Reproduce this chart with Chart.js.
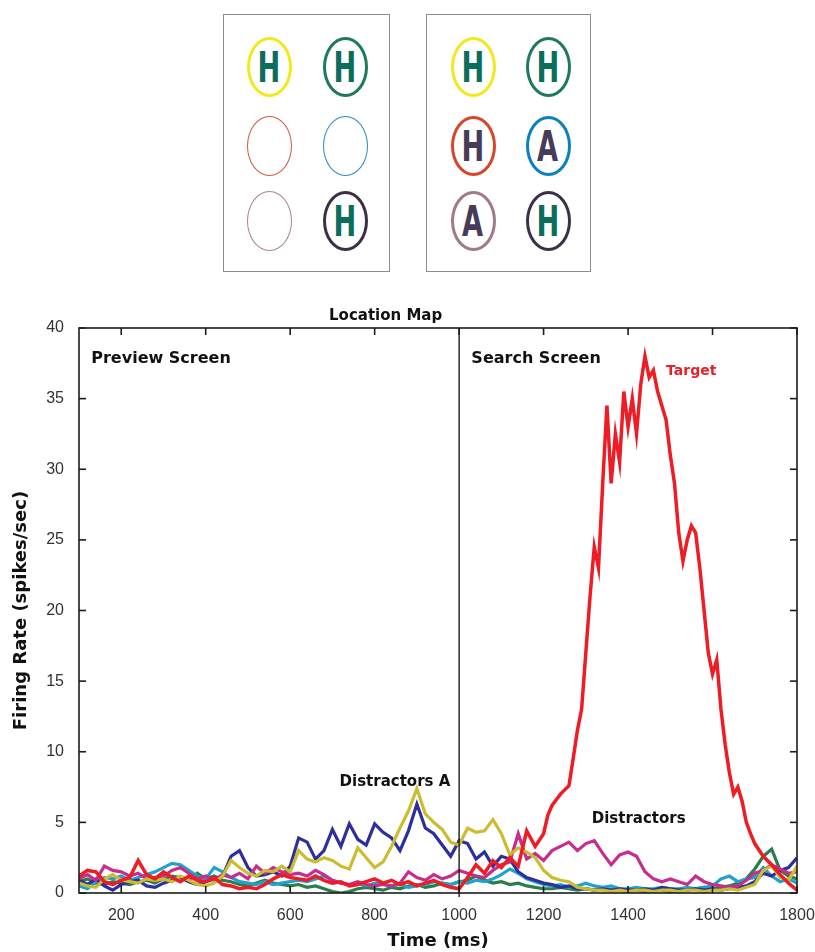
<!DOCTYPE html>
<html>
<head>
<meta charset="utf-8">
<script src="https://cdn.jsdelivr.net/npm/chart.js@4.4.1/dist/chart.umd.min.js"></script>
<style>
  html, body { margin: 0; padding: 0; background: #fff; }
  #page { position: relative; width: 815px; height: 952px; overflow: hidden; }
  .box { position: absolute; border: 1.5px solid #8c8c8c; box-sizing: border-box; background: #fff; }
  .ring { position: absolute; width: 45px; height: 60px; border-radius: 50%; box-sizing: border-box;
          display: flex; align-items: center; justify-content: center; }
  .ring span { font-family: "Liberation Sans Narrow", "DejaVu Sans Condensed", "Liberation Sans", sans-serif;
               font-weight: bold; font-size: 42px; line-height: 1; transform: scaleX(0.72); margin-top: 1px; }
  #c { position: absolute; left: 0; top: 290px; }
</style>
</head>
<body>
<div id="page">
  <div class="box" style="left:223px;top:14px;width:167px;height:258px"></div>
  <div class="box" style="left:426px;top:14px;width:165px;height:258px"></div>
  <canvas id="c" width="815" height="662"></canvas>
</div>
<script>
// display layout: centre x, centre y, ring colour, ring width, letter, letter colour
const cells = [
  [269, 67, '#f2e81e', 3, 'H', '#0b6e5c'],
  [345, 67, '#1e7a5a', 3, 'H', '#0b6e5c'],
  [269, 146, '#d2583c', 1.5, '', ''],
  [345, 146, '#2a8ac2', 1.5, '', ''],
  [269, 221, '#a8848c', 1.5, '', ''],
  [345, 221, '#3b3147', 3.5, 'H', '#0b6e5c'],
  [473, 67, '#f2e81e', 3, 'H', '#0b6e5c'],
  [548, 67, '#1e7a5a', 3, 'H', '#0b6e5c'],
  [473, 146, '#d4472a', 3, 'H', '#473b59'],
  [548, 146, '#0a80bf', 3, 'A', '#473b59'],
  [473, 221, '#a07a84', 3, 'A', '#473b59'],
  [548, 221, '#3b3147', 3, 'H', '#0b6e5c']
];
const page = document.getElementById('page');
cells.forEach(([cx, cy, ring, w, letter, ink]) => {
  const d = document.createElement('div');
  d.className = 'ring';
  d.style.left = (cx - 22.5) + 'px';
  d.style.top = (cy - 30) + 'px';
  d.style.border = w + 'px solid ' + ring;
  if (letter) {
    const s = document.createElement('span');
    s.textContent = letter;
    s.style.color = ink;
    d.appendChild(s);
  }
  page.appendChild(d);
});

// ---- data ----
const timeMs = [
  100, 120, 140, 160, 180, 200, 220, 240, 260, 280,
  300, 320, 340, 360, 380, 400, 420, 440, 460, 480,
  500, 520, 540, 560, 580, 600, 620, 640, 660, 680,
  700, 720, 740, 760, 780, 800, 820, 840, 860, 880,
  900, 920, 940, 960, 980, 1000, 1020, 1040, 1060, 1080,
  1100, 1120, 1140, 1160, 1180, 1200, 1220, 1240, 1260, 1280,
  1300, 1320, 1340, 1360, 1380, 1400, 1420, 1440, 1460, 1480,
  1500, 1520, 1540, 1560, 1580, 1600, 1620, 1640, 1660, 1680,
  1700, 1720, 1740, 1760, 1780, 1800
];
const blueRate = [
  0.9, 0.6, 1.0, 0.5, 0.2, 0.6, 0.8, 0.9, 0.5, 0.4,
  0.7, 0.9, 1.1, 0.8, 0.6, 0.8, 1.0, 1.2, 2.6, 3.0,
  1.8, 1.2, 1.3, 1.5, 1.2, 1.9, 3.9, 3.6, 2.4, 3.0,
  4.5, 3.3, 4.9, 3.8, 3.4, 4.9, 4.3, 3.9, 3.0, 4.4,
  6.3, 4.6, 4.2, 3.4, 2.6, 3.7, 3.5, 2.4, 2.9, 1.9,
  2.6, 2.4, 1.5, 1.1, 0.9, 0.7, 0.6, 0.4, 0.5, 0.3,
  0.3, 0.2, 0.3, 0.2, 0.3, 0.2, 0.2, 0.3, 0.2, 0.4,
  0.3, 0.2, 0.2, 0.3, 0.2, 0.3, 0.2, 0.3, 0.4, 0.5,
  0.8, 1.4, 1.2, 1.6, 1.8, 2.5
];
const yellowRate = [
  0.7, 0.5, 0.4, 1.0, 1.3, 0.9, 0.8, 0.7, 1.0, 0.9,
  1.0, 0.8, 1.2, 0.9, 0.6, 0.5, 0.7, 1.2, 2.3, 1.8,
  1.4, 1.2, 1.6, 1.5, 1.9, 1.5, 3.0, 2.4, 2.2, 2.5,
  2.3, 1.9, 1.7, 3.2, 2.5, 1.8, 2.2, 3.3, 4.6, 5.8,
  7.4, 5.6, 5.0, 4.5, 3.6, 3.4, 4.6, 4.3, 4.4, 5.2,
  4.2, 2.7, 3.2, 2.9, 2.5, 1.6, 1.1, 0.9, 0.8, 0.4,
  0.3, 0.2, 0.2, 0.1, 0.2, 0.1, 0.2, 0.2, 0.1, 0.2,
  0.2, 0.1, 0.2, 0.2, 0.1, 0.2, 0.2, 0.3, 0.2, 0.4,
  0.6, 1.6, 1.9, 1.1, 0.9, 1.9
];
const magentaRate = [
  1.0, 1.3, 0.9, 1.9, 1.6, 1.5, 1.2, 1.4, 1.0, 1.1,
  1.2, 1.6, 1.8, 1.4, 1.0, 1.2, 0.9, 1.3, 1.1, 1.4,
  1.0, 1.9, 1.4, 1.8, 1.5, 1.3, 1.4, 1.2, 1.6, 1.3,
  0.9, 0.7, 0.6, 0.8, 0.6, 0.5, 0.6, 0.5, 0.7, 1.5,
  1.1, 0.9, 1.3, 1.0, 1.2, 1.6, 1.4, 1.2, 1.1, 1.6,
  2.0, 2.2, 4.2, 2.4, 2.8, 2.3, 3.0, 3.3, 3.6, 3.0,
  3.5, 3.7, 2.8, 2.0, 2.7, 2.9, 2.6, 1.5, 1.0, 0.8,
  1.0, 0.8, 0.6, 1.2, 0.8, 0.6, 0.5, 0.4, 0.5, 0.9,
  1.4, 1.6, 2.0, 1.7, 1.4, 1.5
];
const cyanRate = [
  0.5, 0.3, 0.8, 1.1, 1.0, 1.2, 0.9, 1.1, 1.3, 1.5,
  1.8, 2.1, 2.0, 1.6, 1.2, 1.0, 1.8, 1.5, 1.1, 0.8,
  0.7, 0.6, 0.8, 0.6, 0.7, 0.8, 0.9, 0.8, 1.0, 1.2,
  0.9, 0.7, 0.6, 0.7, 0.5, 0.7, 0.6, 0.5, 0.6, 0.4,
  0.5, 0.6, 0.8, 0.7, 0.6, 0.8, 0.7, 0.9, 0.8, 1.0,
  1.3, 1.7, 1.4, 1.0, 0.8, 0.6, 0.5, 0.6, 0.4, 0.5,
  0.7, 0.5, 0.4, 0.5, 0.3, 0.3, 0.4, 0.3, 0.3, 0.4,
  0.3, 0.3, 0.4, 0.3, 0.4, 0.5, 1.0, 1.2, 0.8, 1.0,
  1.1, 1.8, 1.2, 0.8, 1.0, 0.7
];
const greenRate = [
  0.8, 1.0, 0.7, 0.6, 0.8, 0.7, 0.6, 0.8, 0.9, 0.7,
  1.0, 1.2, 1.1, 0.9, 1.4, 1.0, 1.2, 0.9, 0.8, 0.6,
  0.5, 0.7, 0.9, 0.7, 0.6, 0.5, 0.6, 0.4, 0.5, 0.3,
  0.1, 0.0, 0.1, 0.3, 0.4, 0.3, 0.2, 0.4, 0.3, 0.5,
  0.6, 0.4, 0.5, 0.7, 0.6, 0.8, 0.9, 1.2, 0.9, 0.7,
  0.8, 0.6, 0.7, 0.5, 0.4, 0.3, 0.3, 0.4, 0.3, 0.2,
  0.3, 0.2, 0.3, 0.2, 0.2, 0.1, 0.2, 0.1, 0.2, 0.2,
  0.1, 0.2, 0.2, 0.3, 0.4, 0.3, 0.4, 0.5, 0.7, 1.0,
  1.7, 2.6, 3.1, 1.6, 1.2, 1.0
];
// target trace is sampled finer around the response
const targetTime = [
  100, 120, 140, 160, 180, 200, 220, 240, 260, 280,
  300, 320, 340, 360, 380, 400, 420, 440, 460, 480,
  500, 520, 540, 560, 580, 600, 620, 640, 660, 680,
  700, 720, 740, 760, 780, 800, 820, 840, 860, 880,
  900, 920, 940, 960, 980, 1000, 1020, 1040, 1060, 1080,
  1100, 1120, 1140, 1160, 1180, 1200, 1210, 1220, 1230, 1240,
  1250, 1260, 1270, 1280, 1290, 1300, 1310, 1320, 1330, 1340,
  1350, 1360, 1370, 1380, 1390, 1400, 1410, 1420, 1430, 1440,
  1450, 1460, 1470, 1480, 1490, 1500, 1510, 1520, 1530, 1540,
  1550, 1560, 1570, 1580, 1590, 1600, 1610, 1620, 1630, 1640,
  1650, 1660, 1670, 1680, 1690, 1700, 1720, 1740, 1760, 1780,
  1800
];
const targetRate = [
  1.2, 1.6, 1.5, 0.8, 0.6, 0.9, 1.1, 2.3, 1.3, 1.0,
  1.5, 1.1, 0.8, 1.2, 0.9, 0.8, 1.1, 0.6, 0.5, 0.3,
  0.4, 0.3, 0.6, 1.0, 1.3, 1.1, 1.0, 0.9, 1.2, 0.9,
  0.7, 0.8, 0.5, 0.6, 0.8, 1.0, 0.7, 0.9, 0.6, 0.8,
  0.5, 0.7, 0.9, 0.6, 0.4, 0.3, 1.1, 2.0, 1.4, 2.3,
  1.8, 2.5, 1.9, 4.4, 3.3, 4.2, 5.5, 6.2, 6.6, 7.0,
  7.3, 7.6, 9.5, 11.5, 13.0, 17.0, 21.0, 24.5, 23.0, 29.0,
  34.5, 29.0, 32.5, 30.5, 35.5, 33.0, 35.0, 32.5, 36.0, 38.0,
  36.5, 37.0, 35.5, 34.5, 33.5, 31.0, 29.0, 25.5, 23.5, 25.0,
  26.0, 25.5, 23.0, 20.0, 17.0, 15.5, 16.5, 13.0, 10.5, 8.5,
  7.0, 7.5, 6.5, 5.0, 4.2, 3.5, 2.6, 2.0, 1.3, 0.7,
  0.2
];
const xTickValues = [200, 400, 600, 800, 1000, 1200, 1400, 1600, 1800];
const yTickValues = [0, 5, 10, 15, 20, 25, 30, 35, 40];
const screenOnset = 1000;

// text placed in data coordinates (left/baseline, except the title which is centred)
const notes = [
  { text: 'Location Map', t: 826, v: 40.6, color: '#111', size: 15, align: 'center' },
  { text: 'Preview Screen', t: 129, v: 37.5, color: '#111', size: 16, align: 'left' },
  { text: 'Search Screen', t: 1029, v: 37.5, color: '#111', size: 16, align: 'left' },
  { text: 'Target', t: 1490, v: 36.7, color: '#e8202a', size: 14, align: 'left' },
  { text: 'Distractors A', t: 717, v: 7.6, color: '#111', size: 15, align: 'left' },
  { text: 'Distractors', t: 1314, v: 4.95, color: '#111', size: 15, align: 'left' }
];

const pts = (ts, vs) => ts.map((t, i) => ({ x: t, y: vs[i] }));

const framePlugin = {
  id: 'frame',
  afterDatasetsDraw(chart) {
    const { ctx, chartArea: a, scales: { x, y } } = chart;
    const seg = (x1, y1, x2, y2) => { ctx.beginPath(); ctx.moveTo(x1, y1); ctx.lineTo(x2, y2); ctx.stroke(); };
    ctx.save();
    ctx.strokeStyle = '#1c1c1c';
    ctx.lineWidth = 1.6;
    ctx.strokeRect(a.left, a.top, a.right - a.left, a.bottom - a.top);
    xTickValues.forEach(v => {
      const px = x.getPixelForValue(v);
      seg(px, a.bottom, px, a.bottom - 7);
      seg(px, a.top, px, a.top + 7);
    });
    yTickValues.forEach(v => {
      const py = y.getPixelForValue(v);
      seg(a.left, py, a.left + 7, py);
      seg(a.right, py, a.right - 7, py);
    });
    ctx.lineWidth = 1.4;
    const ox = x.getPixelForValue(screenOnset);
    seg(ox, a.top, ox, a.bottom + 4);
    ctx.textBaseline = 'alphabetic';
    notes.forEach(n => {
      ctx.font = 'bold ' + n.size + 'px "DejaVu Sans", sans-serif';
      ctx.fillStyle = n.color;
      ctx.textAlign = n.align;
      ctx.fillText(n.text, x.getPixelForValue(n.t), y.getPixelForValue(n.v));
    });
    ctx.restore();
  }
};

const line = (label, ts, vs, color, width) => ({
  label, data: pts(ts, vs), borderColor: color, borderWidth: width,
  pointRadius: 0, tension: 0, fill: false
});

new Chart(document.getElementById('c').getContext('2d'), {
  type: 'line',
  data: {
    datasets: [
      line('Target', targetTime, targetRate, '#ee1c25', 3.5),
      line('Yellow', timeMs, yellowRate, '#ccbd30', 3.2),
      line('Magenta', timeMs, magentaRate, '#c62d8c', 3.2),
      line('Blue', timeMs, blueRate, '#2c2f9c', 3.2),
      line('Cyan', timeMs, cyanRate, '#1fa3cc', 3.2),
      line('Green', timeMs, greenRate, '#2a7d4c', 3.2)
    ]
  },
  options: {
    responsive: false,
    animation: false,
    layout: { padding: { top: 38, right: 18, left: 0, bottom: 0 } },
    plugins: { legend: { display: false }, tooltip: { enabled: false } },
    scales: {
      x: {
        type: 'linear', min: 100, max: 1800,
        afterBuildTicks: s => { s.ticks = xTickValues.map(value => ({ value })); },
        afterFit: s => { s.height = 59; s.paddingLeft = 0; s.paddingRight = 0; },
        grid: { display: false }, border: { display: false },
        ticks: { padding: 5, color: '#333', font: { family: '"Liberation Sans", Arial, sans-serif', size: 16 }, callback: v => String(v) },
        title: { display: true, text: 'Time (ms)', color: '#111', padding: { top: 0, bottom: 0 },
                 font: { family: '"DejaVu Sans", sans-serif', size: 18, weight: 'bold' } }
      },
      y: {
        min: 0, max: 40,
        afterBuildTicks: s => { s.ticks = yTickValues.map(value => ({ value })); },
        afterFit: s => { s.width = 79; s.paddingTop = 0; s.paddingBottom = 0; },
        grid: { display: false }, border: { display: false },
        ticks: { padding: 7, color: '#333', font: { family: '"Liberation Sans", Arial, sans-serif', size: 16 }, callback: v => String(v) },
        title: { display: true, text: 'Firing Rate (spikes/sec)', color: '#111', padding: { top: 11, bottom: 0 },
                 font: { family: '"DejaVu Sans", sans-serif', size: 18, weight: 'bold' } }
      }
    }
  },
  plugins: [framePlugin]
});
</script>
</body>
</html>
